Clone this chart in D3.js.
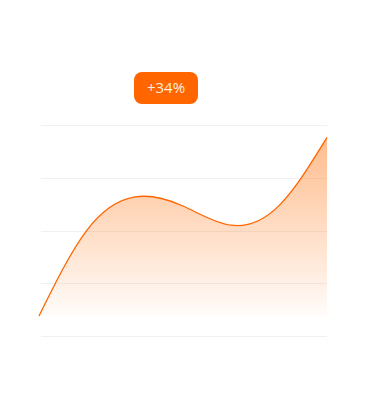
<!DOCTYPE html>
<html>
<head>
<meta charset="utf-8">
<script src="https://cdn.jsdelivr.net/npm/d3@7"></script>
<style>
  html, body { margin: 0; padding: 0; background: #fff; }
  svg { display: block; }
</style>
</head>
<body>
<svg id="chart" width="366" height="412"></svg>
<script>
"use strict";

// data
var categories = [0, 1, 2, 3, 4, 5, 6];
var values = [9.5, 50.2, 65.9, 61.6, 52.5, 61.8, 94.1];
var gridTicks = [0, 25, 50, 75, 100];
var badgeLabel = '+34%';

var svg = d3.select('#chart');
var margin = { top: 125, left: 39, right: 39, bottom: 76 };
var width = 366 - margin.left - margin.right;
var height = 412 - margin.top - margin.bottom;

var x = d3.scaleLinear().domain(d3.extent(categories)).range([0, width]);
var y = d3.scaleLinear().domain([0, 100]).range([height, 0]);

var defs = svg.append('defs');
var grad = defs.append('linearGradient')
	.attr('id', 'fill-grad')
	.attr('x1', 0).attr('y1', 0)
	.attr('x2', 0).attr('y2', 1);
grad.append('stop').attr('offset', '0%').attr('stop-color', '#ff6a00').attr('stop-opacity', 0.45);
grad.append('stop').attr('offset', '100%').attr('stop-color', '#ff6a00').attr('stop-opacity', 0.02);

var g = svg.append('g')
	.attr('transform', 'translate(' + margin.left + ',' + margin.top + ')');

// grid lines
g.selectAll('.grid')
	.data(gridTicks)
	.enter()
	.append('line')
	.attr('class', 'grid')
	.attr('x1', 2)
	.attr('x2', width)
	.attr('y1', function(d) { return Math.round(y(d)) + 0.5; })
	.attr('y2', function(d) { return Math.round(y(d)) + 0.5; })
	.attr('stroke', '#f1f1f1')
	.attr('stroke-width', 1);

var data = categories.map(function(c, i) { return [c, values[i]]; });
var base = d3.min(values);

var curve = d3.curveNatural;

var area = d3.area()
	.curve(curve)
	.x(function(d) { return x(d[0]); })
	.y0(y(base))
	.y1(function(d) { return y(d[1]); });

var line = d3.line()
	.curve(curve)
	.x(function(d) { return x(d[0]); })
	.y(function(d) { return y(d[1]); });

g.append('path')
	.datum(data)
	.attr('d', area)
	.attr('fill', 'url(#fill-grad)');

g.append('path')
	.datum(data)
	.attr('d', line)
	.attr('fill', 'none')
	.attr('stroke', '#ff6600')
	.attr('stroke-width', 1.3);

// badge
var badge = svg.append('g').attr('transform', 'translate(166,88)');
badge.append('rect')
	.attr('x', -32).attr('y', -16)
	.attr('width', 64).attr('height', 32)
	.attr('rx', 8).attr('ry', 8)
	.attr('fill', '#ff6600');
badge.append('text')
	.attr('text-anchor', 'middle')
	.attr('dy', '0.36em')
	.attr('fill', '#ffeedd')
	.style('font-family', '"Open Sans", sans-serif')
	.style('font-size', '15px')
	.text(badgeLabel);
</script>
</body>
</html>
